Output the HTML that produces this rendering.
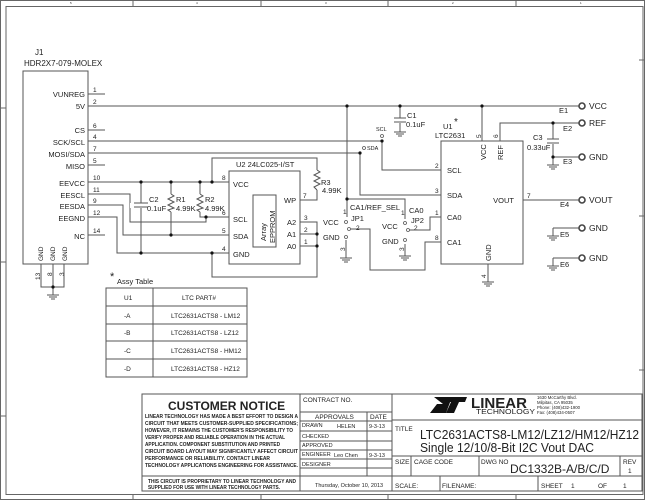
<!DOCTYPE html>
<html><head><meta charset="utf-8"><style>
html,body{margin:0;padding:0;background:#fff}
svg{display:block}
text{font-family:"Liberation Sans",sans-serif;fill:#222}
</style></head><body>
<svg width="645" height="500" viewBox="0 0 645 500" xmlns="http://www.w3.org/2000/svg">
<g fill="none" stroke="#666" stroke-width="1">
<rect x="0.5" y="0.5" width="644" height="499"/>
<rect x="6" y="6.5" width="637" height="488"/>
<path d="M133 1V6M261 1V6M388 1V6M516 1V6M133 495V500M261 495V500M388 495V500M516 495V500M1 108H6M1 262H6M1 416H6M639 60H645M639 216H645M639 370H645"/>
</g>
<g font-size="3" fill="#888"><text x="70" y="4">5</text><text x="196" y="4">4</text><text x="325" y="4">3</text><text x="452" y="4">2</text><text x="580" y="4">1</text></g>

<g fill="none" stroke="#555" stroke-width="1">
<rect x="23" y="71" width="65" height="193"/>
<path d="M88 94H105M88 130H105M88 165H105M88 235H105"/>
<path d="M88 106H580M88 141H382V170H441M88 153H360V195H441"/>
<path d="M88 182H229M212 182V158H317V200H300"/>
<path d="M88 194H130V222H206V217H229M200 182V217H206"/>
<path d="M88 205H123V235H229M171 182V235"/>
<path d="M88 217H117V253H229M141 182V253M212 253V277H317V222H300M300 234H317M300 246H317"/>
<path d="M41 264V287H64V264M53 264V287M53 287V295"/>
<rect x="229" y="171" width="71" height="93"/>
<rect x="253" y="195" width="23" height="52"/>
<rect x="441" y="141" width="82" height="123"/>
<path d="M400 106V132M482 106V141M500 141V123H580M553 123V165M553 157H580M488 264V282"/>
<path d="M523 200H580M553 228H580M553 228V236M553 258H580M553 258V266"/>
<path d="M347 106V217M347 199H405V219M346 240V258M405 244V256"/>
<path d="M351 229H370V270H425V242H441M409 230H430V217H441"/>
</g>
<g fill="#fff" stroke="none">
<rect x="166" y="194" width="10" height="18"/>
<rect x="195" y="194" width="10" height="18"/>
<rect x="312" y="170" width="10" height="20"/>
<rect x="130" y="203" width="22" height="5"/>
<rect x="395" y="118" width="10" height="5"/>
<rect x="548" y="139" width="10" height="5"/>
</g>
<g fill="none" stroke="#555" stroke-width="1">
<path d="M171 194L174 196L168 199L174 202L168 205L174 208L168 210L171 212"/>
<path d="M200 194L203 196L197 199L203 202L197 205L203 208L197 210L200 212"/>
<path d="M317 170L320 172L314 175L320 178L314 181L320 184L314 187L317 190"/>
<path d="M134 203H148M134 207H148"/>
<path d="M394 118H406M394 122H406M547 139H559M547 143H559"/>
<path d="M47 295H59M49 297H57M51 299H55"/>
<path d="M394 132H406M396 134H404M398 136H402"/>
<path d="M547 165H559M549 167H557M551 169H555"/>
<path d="M547 236H559M549 238H557M551 240H555"/>
<path d="M547 266H559M549 268H557M551 270H555"/>
<path d="M482 282H494M484 284H492M486 286H490"/>
<path d="M340 258H352M342 260H350M344 262H348"/>
<path d="M399 256H411M401 258H409M403 260H407"/>
</g>
<g fill="#fff" stroke="#555" stroke-width="0.8">
<circle cx="382" cy="136" r="1.5"/><circle cx="364" cy="148" r="1.5"/>
<circle cx="346" cy="222" r="1.5"/><circle cx="349" cy="229" r="1.5"/><circle cx="346" cy="237" r="1.5"/>
<circle cx="405" cy="223" r="1.5"/><circle cx="408" cy="230" r="1.5"/><circle cx="405" cy="240" r="1.5"/>
</g>
<g fill="#fff" stroke="#444" stroke-width="1.6">
<circle cx="582" cy="106" r="3"/><circle cx="582" cy="123" r="3"/><circle cx="582" cy="157" r="3"/>
<circle cx="582" cy="200" r="3"/><circle cx="582" cy="228" r="3"/><circle cx="582" cy="258" r="3"/>
</g>
<g fill="#111">
<circle cx="141" cy="182" r="1.6"/><circle cx="171" cy="182" r="1.6"/><circle cx="200" cy="182" r="1.6"/><circle cx="212" cy="182" r="1.6"/>
<circle cx="206" cy="217" r="1.6"/><circle cx="171" cy="235" r="1.6"/><circle cx="141" cy="253" r="1.6"/><circle cx="212" cy="253" r="1.6"/>
<circle cx="317" cy="234" r="1.6"/><circle cx="317" cy="246" r="1.6"/><circle cx="53" cy="287" r="1.6"/>
<circle cx="347" cy="106" r="1.6"/><circle cx="400" cy="106" r="1.6"/><circle cx="482" cy="106" r="1.6"/>
<circle cx="382" cy="141" r="1.6"/><circle cx="360" cy="153" r="1.6"/><circle cx="347" cy="199" r="1.6"/>
<circle cx="553" cy="123" r="1.6"/><circle cx="553" cy="157" r="1.6"/>
</g>

<g font-size="8">
<text x="35" y="55">J1</text>
<text x="24" y="66">HDR2X7-079-MOLEX</text>
</g>
<g font-size="7.5" text-anchor="end">
<text x="85" y="97">VUNREG</text><text x="85" y="109">5V</text><text x="85" y="133">CS</text>
<text x="85" y="145">SCK/SCL</text><text x="85" y="157">MOSI/SDA</text><text x="85" y="169">MISO</text>
<text x="85" y="186">EEVCC</text><text x="85" y="198">EESCL</text><text x="85" y="209">EESDA</text>
<text x="85" y="221">EEGND</text><text x="85" y="239">NC</text>
</g>
<g font-size="6.5">
<text x="93" y="92">1</text><text x="93" y="104">2</text><text x="93" y="128">6</text><text x="93" y="139">4</text>
<text x="93" y="151">7</text><text x="93" y="163">5</text><text x="93" y="180">10</text><text x="93" y="192">11</text>
<text x="93" y="203">9</text><text x="93" y="215">12</text><text x="93" y="233">14</text>
</g>
<g font-size="6.5">
<text transform="translate(43,261) rotate(-90)">GND</text>
<text transform="translate(55,261) rotate(-90)">GND</text>
<text transform="translate(67,261) rotate(-90)">GND</text>
<text transform="translate(40,280) rotate(-90)">13</text>
<text transform="translate(52,276) rotate(-90)">8</text>
<text transform="translate(64,276) rotate(-90)">3</text>
</g>
<g font-size="7.5">
<text x="149" y="202">C2</text><text x="147" y="211">0.1uF</text>
<text x="176" y="202">R1</text><text x="176" y="211">4.99K</text>
<text x="205" y="202">R2</text><text x="205" y="211">4.99K</text>
<text x="321" y="185">R3</text><text x="322" y="193">4.99K</text>
<text x="407" y="118">C1</text><text x="406" y="127">0.1uF</text>
<text x="533" y="140">C3</text><text x="527" y="150">0.33uF</text>
</g>
<g font-size="7.5">
<text x="236" y="167">U2  24LC025-I/ST</text>
<text x="233" y="187">VCC</text><text x="233" y="222">SCL</text><text x="233" y="239">SDA</text><text x="233" y="257">GND</text>
<text x="284" y="203">WP</text><text x="287" y="225">A2</text><text x="287" y="237">A1</text><text x="287" y="249">A0</text>
<text transform="translate(266,241) rotate(-90)">Array</text>
<text transform="translate(275,243) rotate(-90)">EPPROM</text>
</g>
<g font-size="6.5">
<text x="222" y="180">8</text><text x="222" y="215">6</text><text x="222" y="233">5</text><text x="222" y="251">4</text>
<text x="303" y="198">7</text><text x="304" y="220">3</text><text x="304" y="232">2</text><text x="304" y="244">1</text>
</g>
<g font-size="7.5">
<text x="323" y="225">VCC</text><text x="323" y="240">GND</text>
<text x="350" y="210">CA1/REF_SEL</text><text x="351" y="221">JP1</text>
<text x="382" y="229">VCC</text><text x="382" y="244">GND</text>
<text x="409" y="213">CA0</text><text x="411" y="223">JP2</text>
</g>
<g font-size="6.5">
<text x="343" y="214">1</text><text x="356" y="230">2</text>
<text x="401" y="215">1</text><text x="414" y="230">2</text>
<text transform="translate(345,251) rotate(-90)">3</text>
<text transform="translate(404,251) rotate(-90)">3</text>
</g>
<g font-size="5.5"><text x="376" y="131">SCL</text><text x="367" y="150">SDA</text></g>
<g font-size="7.5">
<text x="443" y="129">U1</text><text x="454" y="125" font-size="10">*</text>
<text x="435" y="138">LTC2631</text>
<text x="447" y="173">SCL</text><text x="447" y="198">SDA</text><text x="447" y="220">CA0</text><text x="447" y="245">CA1</text>
<text x="514" y="203" text-anchor="end">VOUT</text>
<text transform="translate(486,160) rotate(-90)">VCC</text>
<text transform="translate(503,160) rotate(-90)">REF</text>
<text transform="translate(491,261) rotate(-90)">GND</text>
</g>
<g font-size="6.5">
<text x="435" y="168">2</text><text x="435" y="193">3</text><text x="435" y="215">1</text><text x="435" y="240">8</text>
<text x="527" y="198">7</text>
<text transform="translate(481,138) rotate(-90)">5</text>
<text transform="translate(498,138) rotate(-90)">6</text>
<text transform="translate(486,278) rotate(-90)">4</text>
</g>
<g font-size="7.5">
<text x="559" y="113">E1</text><text x="563" y="131">E2</text><text x="563" y="164">E3</text>
<text x="560" y="207">E4</text><text x="560" y="237">E5</text><text x="560" y="267">E6</text>
</g>
<g font-size="8.5">
<text x="589" y="109">VCC</text><text x="589" y="126">REF</text><text x="589" y="160">GND</text>
<text x="589" y="203">VOUT</text><text x="589" y="231">GND</text><text x="589" y="261">GND</text>
</g>
<text x="110" y="280" font-size="11">*</text>
<text x="117" y="284" font-size="7.5">Assy Table</text>
<g fill="none" stroke="#555"><rect x="106" y="288" width="141" height="89"/><path d="M153 288V377M106 306H247M106 324H247M106 341H247M106 359H247"/></g>
<g font-size="6.5">
<text x="124" y="300">U1</text><text x="182" y="300">LTC PART#</text>
<text x="124" y="318">-A</text><text x="171" y="318">LTC2631ACTS8 - LM12</text>
<text x="124" y="335">-B</text><text x="171" y="335">LTC2631ACTS8 - LZ12</text>
<text x="124" y="353">-C</text><text x="171" y="353">LTC2631ACTS8 - HM12</text>
<text x="124" y="371">-D</text><text x="171" y="371">LTC2631ACTS8 - HZ12</text>
</g>
<g fill="none" stroke="#555">
<rect x="142" y="394" width="500" height="97"/>
<path d="M300 394V491M392 394V491M142 476H392M300 412H392M300 421H392M300 431H392M300 441H392M300 450H392M300 459H392M300 468H392M367 412V476"/>
<path d="M392 420H642M392 456H642M392 476H642M411 456V476M479 456V476M620 456V476M440 476V491M538 476V491"/>
</g>
<text x="168" y="410" font-size="12" font-weight="bold">CUSTOMER NOTICE</text>
<g font-size="5.3" font-weight="bold" lengthAdjust="spacingAndGlyphs">
<text x="145" y="418" textLength="153" lengthAdjust="spacingAndGlyphs">LINEAR TECHNOLOGY HAS MADE A BEST EFFORT TO DESIGN A</text>
<text x="145" y="425" textLength="153" lengthAdjust="spacingAndGlyphs">CIRCUIT THAT MEETS CUSTOMER-SUPPLIED SPECIFICATIONS;</text>
<text x="145" y="432" textLength="148" lengthAdjust="spacingAndGlyphs">HOWEVER, IT REMAINS THE CUSTOMER'S RESPONSIBILITY TO</text>
<text x="145" y="439" textLength="140" lengthAdjust="spacingAndGlyphs">VERIFY PROPER AND RELIABLE OPERATION IN THE ACTUAL</text>
<text x="145" y="446" textLength="135" lengthAdjust="spacingAndGlyphs">APPLICATION.  COMPONENT SUBSTITUTION AND PRINTED</text>
<text x="145" y="453" textLength="153" lengthAdjust="spacingAndGlyphs">CIRCUIT BOARD LAYOUT MAY SIGNIFICANTLY AFFECT CIRCUIT</text>
<text x="145" y="460" textLength="125" lengthAdjust="spacingAndGlyphs">PERFORMANCE OR RELIABILITY.  CONTACT LINEAR</text>
<text x="145" y="467" textLength="153" lengthAdjust="spacingAndGlyphs">TECHNOLOGY APPLICATIONS ENGINEERING FOR ASSISTANCE.</text>
<text x="148" y="483" textLength="148" lengthAdjust="spacingAndGlyphs">THIS CIRCUIT IS PROPRIETARY TO LINEAR TECHNOLOGY AND</text>
<text x="148" y="489" textLength="132" lengthAdjust="spacingAndGlyphs">SUPPLIED FOR USE WITH LINEAR TECHNOLOGY PARTS.</text>
</g>
<g font-size="6.5">
<text x="303" y="402">CONTRACT NO.</text>
<text x="315" y="419">APPROVALS</text><text x="370" y="419">DATE</text>
</g>
<g font-size="5.5">
<text x="302" y="427">DRAWN</text><text x="337" y="428">HELEN</text><text x="369" y="428">9-3-13</text>
<text x="302" y="438">CHECKED</text><text x="302" y="447">APPROVED</text>
<text x="302" y="456">ENGINEER</text><text x="334" y="457">Leo Chen</text><text x="369" y="457">9-3-13</text>
<text x="302" y="466">DESIGNER</text>
<text x="315" y="487">Thursday, October 10, 2013</text>
</g>
<path d="M434 397H452L446 413H430L437 404H443Z" fill="#111"/>
<path d="M448 397H467L465 402H459L454 413H446L451 402H446Z" fill="#111"/>
<text x="471" y="408" font-size="15" font-weight="bold" fill="#111" textLength="56" lengthAdjust="spacingAndGlyphs">LINEAR</text>
<text x="476" y="414" font-size="7.5" textLength="59" lengthAdjust="spacingAndGlyphs">TECHNOLOGY</text>
<g font-size="4.3"><text x="537" y="399">1630 McCarthy Blvd.</text><text x="537" y="404">Milpitas, CA 95035</text><text x="537" y="409">Phone: (408)432-1900</text><text x="537" y="414">Fax: (408)434-0507</text></g>
<text x="395" y="431" font-size="6.5">TITLE</text>
<text x="420" y="439" font-size="13" textLength="219" lengthAdjust="spacingAndGlyphs">LTC2631ACTS8-LM12/LZ12/HM12/HZ12</text>
<text x="420" y="452" font-size="13" textLength="174" lengthAdjust="spacingAndGlyphs">Single 12/10/8-Bit I2C Vout DAC</text>
<g font-size="6.5">
<text x="395" y="464">SIZE</text><text x="414" y="464">CAGE CODE</text><text x="481" y="464">DWG NO</text><text x="623" y="464">REV</text>
<text x="628" y="473">1</text>
<text x="395" y="488">SCALE:</text><text x="442" y="488">FILENAME:</text><text x="541" y="488">SHEET</text><text x="571" y="488">1</text><text x="598" y="488">OF</text><text x="623" y="488">1</text>
</g>
<text x="510" y="473" font-size="12">DC1332B-A/B/C/D</text>
</svg>
</body></html>
